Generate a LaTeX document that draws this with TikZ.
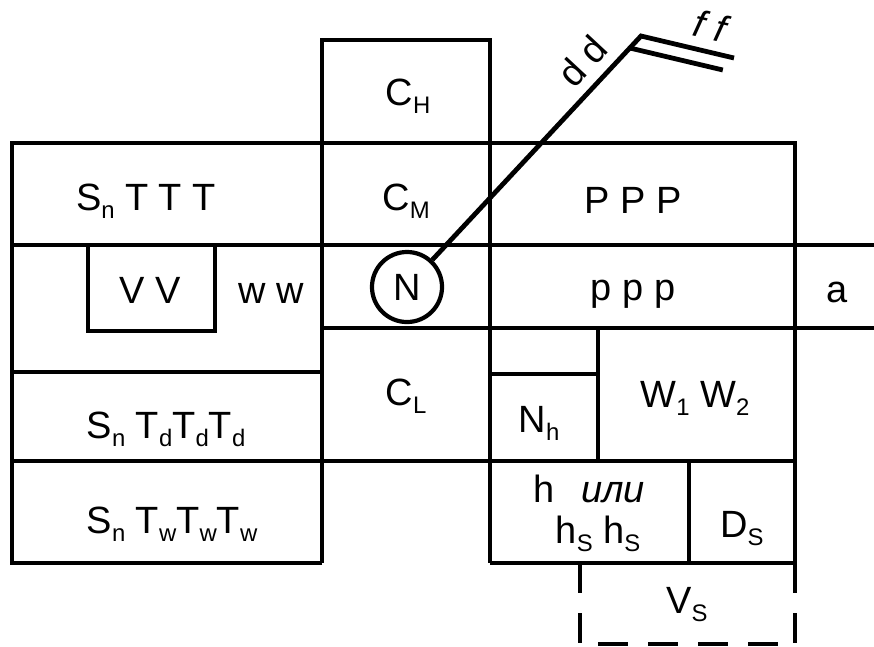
\documentclass[tikz,border=0pt]{standalone}
\usepackage{fontspec}
\setmainfont{Liberation Sans}
\usetikzlibrary{calc}
\newcommand{\low}[1]{\raisebox{-6pt}{\fontsize{17}{17}\selectfont #1}}
\begin{document}
\begin{tikzpicture}[x=0.025cm, y=-0.025cm, line width=3.4pt,
  every node/.style={inner sep=0pt, font=\fontsize{27}{32}\selectfont},
  txt/.style={anchor=base},
  ring/.style={circle, draw, minimum size=1.75cm, line width=3pt},
  dashline/.style={dash pattern=on 0.75cm off 0.5cm}]
  \useasboundingbox (0,0) rectangle (874,646);
  % frame of the blocks
  \draw (322,563) -- (12,563) -- (12,143) -- (795,143) -- (795,563) -- (490,563);
  \draw (322,563) -- (322,40) -- (490,40) -- (490,563);
  \draw (12,245) -- (874,245);
  \draw (322,328) -- (874,328);
  \draw (88,245) -- (88,331) -- (215,331) -- (215,245);
  \draw (12,372) -- (322,372);
  \draw (12,461) -- (795,461);
  \draw (490,374) -- (598,374);
  \draw (598,328) -- (598,461);
  \draw (689,461) -- (689,563);
  % dashed box
  \draw[dashline] (580,563) -- (580,644);
  \draw[dashline] (795,563) -- (795,644);
  \draw[dashline, dash phase=0.8cm] (580,644) -- (795,644);
  % texts
  \node[txt] (ch) at (408,105) {C\low{H}};
  \node[txt] (cm) at (406,210) {C\low{M}};
  \node[txt] (cl) at (406,405) {C\low{L}};
  \node[txt] (sttt) at (146,210) {S\low{n} T T T};
  \node[txt] (vv) at (150,303) {V V};
  \node[txt] (ww) at (271,303) {w w};
  \node[txt] (std) at (166,438) {S\low{n} T\low{d}T\low{d}T\low{d}};
  \node[txt] (stw) at (172,533) {S\low{n} T\low{w}T\low{w}T\low{w}};
  \node[txt] (ppp) at (633,213) {P P P};
  \node[txt] (pp) at (633,300) {p p p};
  \node[txt] (a) at (837,302) {a};
  \node[txt] (nh) at (539,432) {N\low{h}};
  \node[txt] (ww12) at (695,407) {W\low{1} W\low{2}};
  \node[txt] (hili) at (589,502) {h\hspace{0.7em}\textit{или}};
  \node[txt] (hs) at (598,543) {h\low{S} h\low{S}};
  \node[txt] (ds) at (742,537) {D\low{S}};
  \node[txt] (vs) at (687,613) {V\low{S}};
  % station circle and wind
  \node[ring] (N) at (407,287) {N};
  \coordinate (apex) at (641,36);
  \coordinate (fork) at ($(apex)!0.41cm!(N)$);
  \draw (N) -- node[sloped, above=7pt, pos=0.81] (dd) {d d} (apex)
    -- node[sloped, above=7pt, pos=0.68, font=\fontsize{27}{32}\selectfont\itshape] (ff) {f f} ++(93,22);
  \draw (fork) -- ++(93,22);
\end{tikzpicture}
\end{document}
